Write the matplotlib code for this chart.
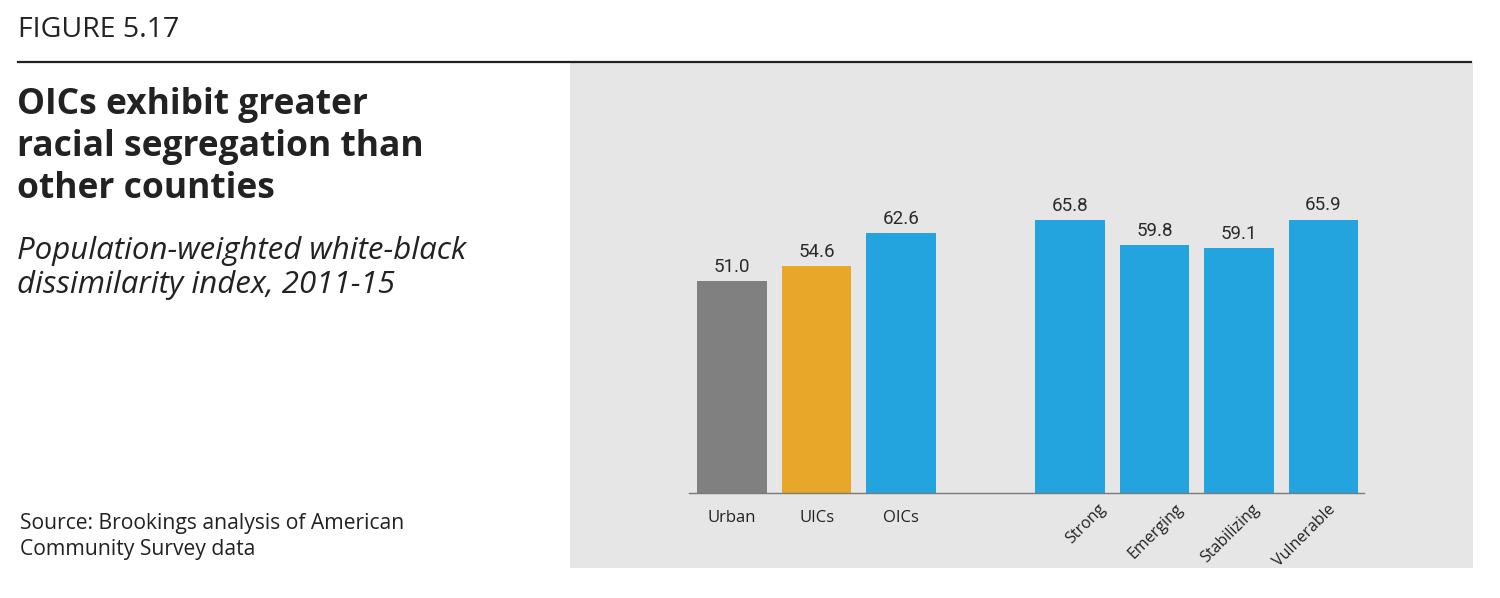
"""Figure 5.17 - white-black dissimilarity index by county type (bar chart on grey panel)."""
import matplotlib
matplotlib.use("Agg")
import matplotlib.pyplot as plt
import matplotlib.transforms as mtransforms
from matplotlib.patches import Rectangle
from matplotlib.lines import Line2D

# data
categories = ["Urban", "UICs", "OICs", "Strong", "Emerging", "Stabilizing", "Vulnerable"]
values = [51.0, 54.6, 62.6, 65.8, 59.8, 59.1, 65.9]
groups = [0, 0, 0, 1, 1, 1, 1]          # second group is the OIC breakdown
bar_colors = ["#808080", "#E9A72A", "#23A4DE", "#23A4DE", "#23A4DE", "#23A4DE", "#23A4DE"]

title_lines = ["OICs exhibit greater", "racial segregation than", "other counties"]
subtitle_lines = ["Population-weighted white-black", "dissimilarity index, 2011-15"]
source_lines = ["Source: Brookings analysis of American", "Community Survey data"]

TEXT_FONT = ["Open Sans", "DejaVu Sans"]
CHART_FONT = ["Roboto", "DejaVu Sans"]
plt.rcParams["font.family"] = TEXT_FONT

fig = plt.figure(figsize=(15, 5.98), dpi=100)
W, H = 1500, 598


def put(x_px, base_px, s, **kw):
    # place a single line by its baseline, in picture pixels from top-left
    fig.text(x_px / W, 1 - base_px / H, s, va="baseline", ha="left", color="#222222", **kw)


# grey panel + top rule
fig.patches.append(Rectangle((570 / W, 1 - 568 / H), 903 / W, 505 / H,
                             transform=fig.transFigure, facecolor="#E6E6E6",
                             edgecolor="none", zorder=-10))
fig.lines.append(Line2D([18 / W, 1471 / W], [1 - 62 / H] * 2, transform=fig.transFigure,
                        color="#222222", lw=1.6))

# left text block
put(18, 37, "FIGURE 5.17", fontsize=20.5)
for s, b in zip(title_lines, [114, 156, 198]):
    put(17, b, s, fontsize=25.5, fontweight="bold")
for s, b in zip(subtitle_lines, [259, 293]):
    put(17, b, s, fontsize=22.5, fontstyle="italic")
for s, b in zip(source_lines, [529, 555]):
    put(20, b, s, fontsize=15.2)

# bars
ax = fig.add_axes([689 / W, 1 - 493 / H, 675 / W, 332 / H])
ax.set_facecolor("none")
pos = [i + g for i, g in enumerate(groups)]
ax.bar(pos, values, width=0.82, color=bar_colors, zorder=2)
for x, v in zip(pos, values):
    ax.annotate(f"{v:.1f}", (x, v), xytext=(0, 6.5), textcoords="offset points",
                ha="center", va="baseline", fontsize=13.5, color="#2A2A2A",
                family=CHART_FONT)

ax.set_xlim(-0.51, 7.48)
ax.set_ylim(0, 80)
for s in ["top", "right", "left"]:
    ax.spines[s].set_visible(False)
ax.spines["bottom"].set_color("#7A7A7A")
ax.spines["bottom"].set_linewidth(1.0)
ax.set_yticks([])
ax.set_xticks(pos, categories)
ax.tick_params(axis="x", length=0, pad=12, labelsize=12, labelcolor="#222222")

# rotated labels for the OIC breakdown
shift_pts = [28, 23, 17, 11]
rot_labels = [lab for lab, g in zip(ax.get_xticklabels(), groups) if g == 1]
for lab, dx in zip(rot_labels, shift_pts):
    lab.set_rotation(45)
    lab.set_ha("right")
    lab.set_va("top")
    lab.set_fontsize(11.5)
    lab.set_transform(lab.get_transform() +
                      mtransforms.ScaledTranslation(dx / 72, 6 / 72, fig.dpi_scale_trans))

fig.savefig("out.png", dpi=100)
